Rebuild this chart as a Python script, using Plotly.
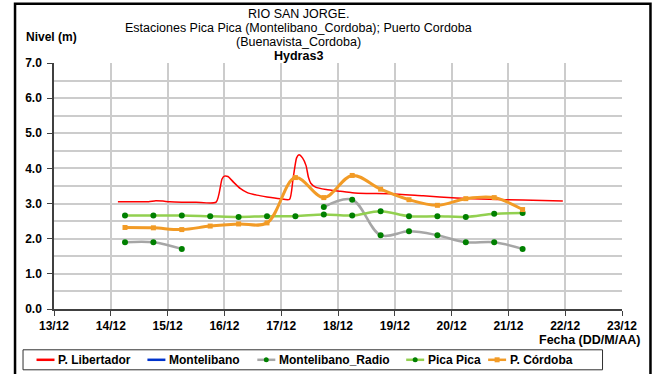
import plotly.graph_objects as go

# --- Water level series, Rio San Jorge (December) ---
# P. Libertador: continuous sensor record
lib_time = [
    "2010-12-14 03:00", "2010-12-14 12:00", "2010-12-14 16:00", "2010-12-14 19:00",
    "2010-12-14 22:00", "2010-12-15 01:00", "2010-12-15 06:00", "2010-12-15 12:00",
    "2010-12-15 20:30", "2010-12-15 23:00", "2010-12-16 00:00", "2010-12-16 01:30",
    "2010-12-16 03:50", "2010-12-16 06:40", "2010-12-16 09:40", "2010-12-16 13:40",
    "2010-12-16 18:00", "2010-12-16 23:30", "2010-12-17 03:30", "2010-12-17 05:00",
    "2010-12-17 06:30", "2010-12-17 07:30", "2010-12-17 09:00", "2010-12-17 10:30",
    "2010-12-17 11:30", "2010-12-17 12:30", "2010-12-17 14:30", "2010-12-17 19:00",
    "2010-12-18 01:00", "2010-12-18 06:00", "2010-12-18 12:00", "2010-12-18 22:00",
    "2010-12-19 12:00", "2010-12-20 02:00", "2010-12-20 16:00", "2010-12-21 06:00",
    "2010-12-21 23:00",
]
lib_level = [
    3.05, 3.05, 3.05, 3.08,
    3.07, 3.05, 3.04, 3.04,
    3.04, 3.70, 3.78, 3.77,
    3.61, 3.43, 3.31, 3.24,
    3.19, 3.14, 3.12, 3.70,
    4.30, 4.39, 4.30, 4.08,
    3.75, 3.58, 3.47, 3.40,
    3.35, 3.31, 3.29, 3.28,
    3.22, 3.16, 3.12, 3.10,
    3.07,
]

# Manual readings, twice a day (06:00 and 18:00)
obs_time = [
    "2010-12-14 06:00", "2010-12-14 18:00", "2010-12-15 06:00", "2010-12-15 18:00",
    "2010-12-16 06:00", "2010-12-16 18:00", "2010-12-17 06:00", "2010-12-17 18:00",
    "2010-12-18 06:00", "2010-12-18 18:00", "2010-12-19 06:00", "2010-12-19 18:00",
    "2010-12-20 06:00", "2010-12-20 18:00", "2010-12-21 06:00",
]
radio_level = [1.90, 1.90, 1.71, None, None, None, None, 2.90,
               3.11, 2.10, 2.21, 2.10, 1.90, 1.90, 1.71]
pica_level = [2.66, 2.66, 2.66, 2.64, 2.62, 2.64, 2.64, 2.69,
              2.66, 2.78, 2.64, 2.64, 2.62, 2.71, 2.73]
cordoba_level = [2.32, 2.31, 2.26, 2.36, 2.42, 2.45, 3.74, 3.17,
                 3.80, 3.41, 3.11, 2.95, 3.14, 3.17, 2.83]

x_range = ["2010-12-13", "2010-12-23"]
y_ticks = [0, 1, 2, 3, 4, 5, 6, 7]

series_names = ["P. Libertador", "Montelibano", "Montelibano_Radio", "Pica Pica", "P. Córdoba"]
line_colors = ["#FF0000", "#0033CC", "#A6A6A6", "#92D050", "#F29B26"]
marker_colors = [None, None, "#008000", "#008000", "#F29B26"]

FONT = "Arial, Liberation Sans, sans-serif"

fig = go.Figure()
fig.add_trace(go.Scatter(x=lib_time, y=lib_level, name=series_names[0], mode="lines",
                         line=dict(color=line_colors[0], width=1.5, shape="spline", smoothing=0.6)))
fig.add_trace(go.Scatter(x=[None], y=[None], name=series_names[1], mode="lines",
                         line=dict(color=line_colors[1], width=2.5)))
fig.add_trace(go.Scatter(x=obs_time, y=radio_level, name=series_names[2], mode="lines+markers",
                         connectgaps=False,
                         line=dict(color=line_colors[2], width=2.5, shape="spline"),
                         marker=dict(color=marker_colors[2], size=6)))
fig.add_trace(go.Scatter(x=obs_time, y=pica_level, name=series_names[3], mode="lines+markers",
                         line=dict(color=line_colors[3], width=2.5, shape="spline"),
                         marker=dict(color=marker_colors[3], size=6)))
fig.add_trace(go.Scatter(x=obs_time, y=cordoba_level, name=series_names[4], mode="lines+markers",
                         line=dict(color=line_colors[4], width=3, shape="spline"),
                         marker=dict(color=marker_colors[4], size=5, symbol="square")))

# plot area in pixels: left 53.5, right 622, top 62.7, bottom 308.7
L, R, T, B = 53.5, 622.0, 62.7, 308.7
W, H = 655, 374


def px(xp):
    return (xp - L) / (R - L)


def py(yp):
    return (B - yp) / (B - T)


fig.update_layout(
    width=W, height=H,
    margin=dict(l=L, r=W - R, t=T, b=H - B, pad=0, autoexpand=False),
    paper_bgcolor="white", plot_bgcolor="white",
    font=dict(family=FONT, size=11, color="black"),
    showlegend=False,
    xaxis=dict(type="date", range=x_range, dtick=86400000, tick0="2010-12-13",
               tickformat="%d/%m", showgrid=True, gridcolor="#CCCCCC", gridwidth=1.5,
               showline=True, linecolor="#404040", linewidth=1.5,
               ticks="outside", ticklen=5, tickcolor="#404040",
               tickfont=dict(family=FONT, size=12, color="black", weight="bold"),
               zeroline=False, fixedrange=True),
    yaxis=dict(range=[0, 7], tickvals=y_ticks, ticktext=[f"{v:.1f}" for v in y_ticks],
               showgrid=True, gridcolor="#CCCCCC", gridwidth=1.5,
               minor=dict(dtick=0.5, showgrid=True, gridcolor="#CCCCCC", gridwidth=1.5),
               showline=True, linecolor="#404040", linewidth=1.5,
               ticks="outside", ticklen=5, tickcolor="#404040", ticklabelstandoff=3,
               tickfont=dict(family=FONT, size=12, color="black", weight="bold"),
               zeroline=False, fixedrange=True),
)

# multi-line chart title
cx = px(298)
title_lines = [
    ("RIO SAN JORGE.", 14, "normal"),
    ("Estaciones Pica Pica (Montelibano_Cordoba); Puerto Cordoba", 28, "normal"),
    ("(Buenavista_Cordoba)", 42, "normal"),
    ("Hydras3", 55.5, "bold"),
]
for text, yc, w in title_lines:
    fig.add_annotation(text=text, x=cx, y=py(yc), xref="paper", yref="paper",
                       xanchor="center", yanchor="middle", showarrow=False,
                       font=dict(family=FONT, size=12.5, color="black", weight=w))

fig.add_annotation(text="Nivel (m)", x=px(23), y=py(37), xref="paper", yref="paper",
                   xanchor="left", yanchor="middle", showarrow=False,
                   font=dict(family=FONT, size=12, color="black", weight="bold"))
fig.add_annotation(text="Fecha (DD/M/AA)", x=px(642), y=py(339.5), xref="paper", yref="paper",
                   xanchor="right", yanchor="middle", showarrow=False,
                   font=dict(family=FONT, size=12.5, color="black", weight="bold"))

# legend box drawn along the bottom
leg_top, leg_bot, leg_left, leg_right = 349.5, 369.5, 22.5, 602.5
leg_y = (leg_top + leg_bot) / 2
fig.add_shape(type="rect", xref="paper", yref="paper",
              x0=px(leg_left), x1=px(leg_right), y0=py(leg_bot), y1=py(leg_top),
              line=dict(color="#303030", width=1), fillcolor="white", layer="above")
sample_x = [36, 147, 257, 406, 488]
for name, lc, mc, x0 in zip(series_names, line_colors, marker_colors, sample_x):
    fig.add_shape(type="line", xref="paper", yref="paper",
                  x0=px(x0), x1=px(x0 + 18), y0=py(leg_y), y1=py(leg_y),
                  line=dict(color=lc, width=2.5), layer="above")
    if mc is not None:
        mx = x0 + 9
        fig.add_shape(type="circle" if mc == "#008000" else "rect",
                      xref="paper", yref="paper",
                      x0=px(mx - 2.5), x1=px(mx + 2.5), y0=py(leg_y + 2.5), y1=py(leg_y - 2.5),
                      line=dict(color=mc, width=0), fillcolor=mc, layer="above")
    fig.add_annotation(text=name, x=px(x0 + 20), y=py(leg_y), xref="paper", yref="paper",
                       xanchor="left", yanchor="middle", showarrow=False,
                       font=dict(family=FONT, size=12, color="black", weight="bold"))

# outer chart frame
fig.add_shape(type="rect", xref="paper", yref="paper",
              x0=px(14.5), x1=px(650.5), y0=py(380), y1=py(3.5),
              line=dict(color="black", width=2.5), fillcolor="rgba(0,0,0,0)", layer="above")

fig.write_html("out.html")
